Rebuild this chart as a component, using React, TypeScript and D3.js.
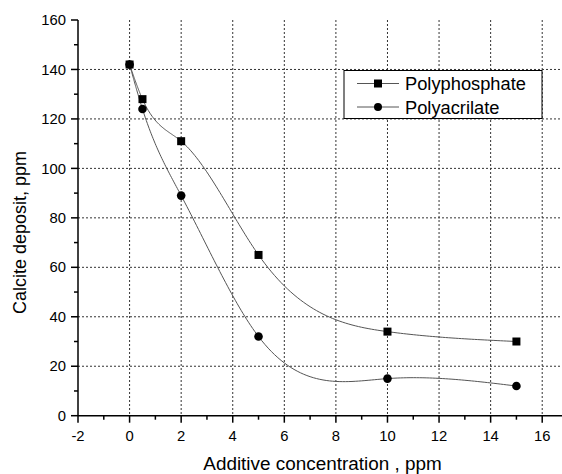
import React from "react";
import * as d3 from "d3";

const concentration = [0, 0.5, 2, 5, 10, 15];
const polyphosphate = [142, 128, 111, 65, 34, 30];
const polyacrilate = [142, 124, 89, 32, 15, 12];
const seriesNames = ["Polyphosphate", "Polyacrilate"];
const xTicks = [-2, 0, 2, 4, 6, 8, 10, 12, 14, 16];
const yTicks = [0, 20, 40, 60, 80, 100, 120, 140, 160];

const W = 562;
const H = 474;
const FONT = "Arial, 'Liberation Sans', Helvetica, sans-serif";

// natural cubic spline y(x) through the given points, sampled for drawing
function splinePath(xs: number[], ys: number[]): [number, number][] {
  const n = xs.length;
  const h: number[] = [];
  for (let i = 0; i < n - 1; i++) h.push(xs[i + 1] - xs[i]);
  const a: number[] = new Array(n).fill(0);
  const b: number[] = new Array(n).fill(1);
  const c: number[] = new Array(n).fill(0);
  const r: number[] = new Array(n).fill(0);
  for (let i = 1; i < n - 1; i++) {
    a[i] = h[i - 1];
    b[i] = 2 * (h[i - 1] + h[i]);
    c[i] = h[i];
    r[i] = 6 * ((ys[i + 1] - ys[i]) / h[i] - (ys[i] - ys[i - 1]) / h[i - 1]);
  }
  const cp = new Array(n).fill(0);
  const rp = new Array(n).fill(0);
  cp[0] = c[0] / b[0];
  rp[0] = r[0] / b[0];
  for (let i = 1; i < n; i++) {
    const m = b[i] - a[i] * cp[i - 1];
    cp[i] = c[i] / m;
    rp[i] = (r[i] - a[i] * rp[i - 1]) / m;
  }
  const M = new Array(n).fill(0);
  M[n - 1] = rp[n - 1];
  for (let i = n - 2; i >= 0; i--) M[i] = rp[i] - cp[i] * M[i + 1];
  const out: [number, number][] = [];
  for (let i = 0; i < n - 1; i++) {
    const steps = 40;
    for (let s = 0; s <= steps; s++) {
      if (i > 0 && s === 0) continue;
      const t = xs[i] + (h[i] * s) / steps;
      const A = (xs[i + 1] - t) / h[i];
      const B = (t - xs[i]) / h[i];
      const v =
        A * ys[i] +
        B * ys[i + 1] +
        ((A * A * A - A) * M[i] + (B * B * B - B) * M[i + 1]) * (h[i] * h[i]) / 6;
      out.push([t, v]);
    }
  }
  return out;
}

export default function App() {
  const x = d3.scaleLinear().domain([-2, 17]).range([78, 568]);
  const y = d3.scaleLinear().domain([0, 160]).range([415.7, 20]);
  const line = d3
    .line<[number, number]>()
    .x((d) => x(d[0]))
    .y((d) => y(d[1]));
  const ptsA = concentration.map((c, i) => [c, polyphosphate[i]] as [number, number]);
  const ptsB = concentration.map((c, i) => [c, polyacrilate[i]] as [number, number]);
  const curveA = splinePath(concentration, polyphosphate);
  const curveB = splinePath(concentration, polyacrilate);
  const minorX = d3.range(-1, 17, 2);
  const minorY = d3.range(10, 160, 20);
  const x0 = x(-2);
  const y0 = y(0);
  const grid = "#333";
  return (
    <div style={{ position: "fixed", left: 0, top: 0 }}>
      <svg width={W} height={H} style={{ display: "block", background: "#fff" }}>
        <rect x={0} y={0} width={W} height={H} fill="#fff" />
        {xTicks.filter((t) => t > -2).map((t) => (
          <line key={"gx" + t} x1={x(t)} x2={x(t)} y1={y(160)} y2={y0} stroke={grid} strokeWidth={1} strokeDasharray="2,2" />
        ))}
        {yTicks.filter((t) => t > 0 && t < 160).map((t) => (
          <line key={"gy" + t} x1={x0} x2={W} y1={y(t)} y2={y(t)} stroke={grid} strokeWidth={1} strokeDasharray="2,2" />
        ))}
        <path d={line(curveA) || ""} fill="none" stroke="#555" strokeWidth={1} />
        <path d={line(curveB) || ""} fill="none" stroke="#555" strokeWidth={1} />
        {ptsA.map((p, i) => (
          <rect key={"a" + i} x={x(p[0]) - 4} y={y(p[1]) - 4} width={8} height={8} fill="#000" />
        ))}
        {ptsB.map((p, i) => (
          <circle key={"b" + i} cx={x(p[0])} cy={y(p[1])} r={4.3} fill="#000" />
        ))}
        <line x1={x0} x2={x0} y1={y(160)} y2={y0} stroke="#000" strokeWidth={1.5} />
        <line x1={x0} x2={W} y1={y0} y2={y0} stroke="#000" strokeWidth={1.5} />
        {yTicks.map((t) => (
          <g key={"yt" + t}>
            <line x1={x0 - 7} x2={x0} y1={y(t)} y2={y(t)} stroke="#000" strokeWidth={1.5} />
            <text x={x0 - 12} y={y(t)} dy="0.35em" textAnchor="end" fontFamily={FONT} fontSize={14.8} fill="#000">
              {t}
            </text>
          </g>
        ))}
        {minorY.map((t) => (
          <line key={"ym" + t} x1={x0 - 4} x2={x0} y1={y(t)} y2={y(t)} stroke="#000" strokeWidth={1.5} />
        ))}
        {xTicks.map((t) => (
          <g key={"xt" + t}>
            <line x1={x(t)} x2={x(t)} y1={y0} y2={y0 + 7} stroke="#000" strokeWidth={1.5} />
            <text x={x(t)} y={440.5} textAnchor="middle" fontFamily={FONT} fontSize={14.8} fill="#000">
              {t}
            </text>
          </g>
        ))}
        {minorX.map((t) => (
          <line key={"xm" + t} x1={x(t)} x2={x(t)} y1={y0} y2={y0 + 4} stroke="#000" strokeWidth={1.5} />
        ))}
        <text x={322.5} y={470} textAnchor="middle" fontFamily={FONT} fontSize={18.9} fill="#000">
          Additive concentration , ppm
        </text>
        <text transform={`translate(26,232.5) rotate(-90)`} textAnchor="middle" fontFamily={FONT} fontSize={18} fill="#000">
          Calcite deposit, ppm
        </text>
        <rect x={344} y={70.5} width={198} height={48} fill="#fff" stroke="#000" strokeWidth={1} />
        {seriesNames.map((n, i) => {
          const ly = 83.5 + i * 23.5;
          return (
            <g key={n}>
              <line x1={357} x2={399} y1={ly} y2={ly} stroke="#555" strokeWidth={1} />
              {i === 0 ? (
                <rect x={374} y={ly - 4} width={8} height={8} fill="#000" />
              ) : (
                <circle cx={378} cy={ly} r={4} fill="#000" />
              )}
              <text x={405} y={ly} dy="0.36em" fontFamily={FONT} fontSize={18.3} fill="#000">
                {n}
              </text>
            </g>
          );
        })}
      </svg>
    </div>
  );
}
